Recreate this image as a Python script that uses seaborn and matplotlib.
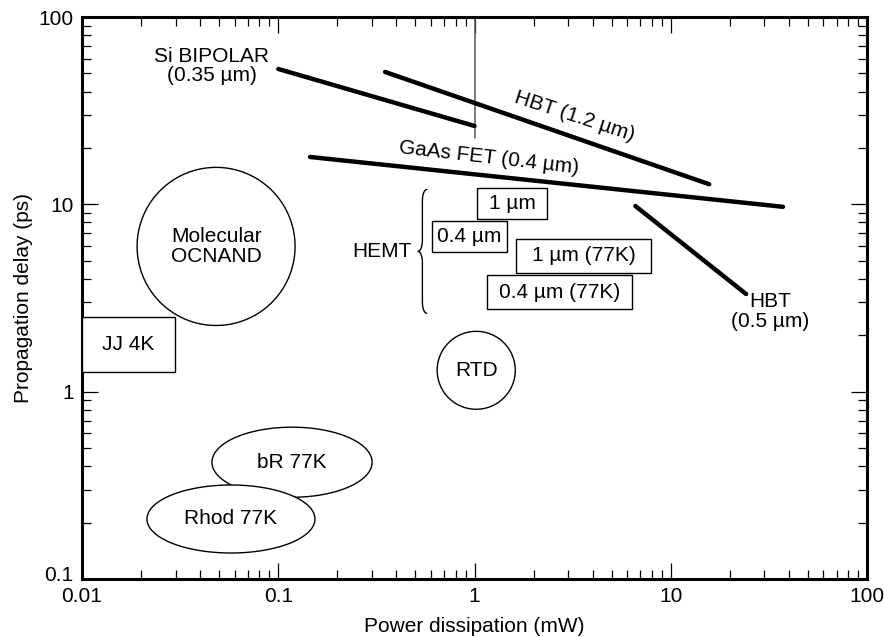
import numpy as np
import pandas as pd
import matplotlib
matplotlib.use("Agg")
import matplotlib.pyplot as plt
from matplotlib.patches import Rectangle
from matplotlib.transforms import ScaledTranslation
import seaborn as sns

# %%
# Technology trend lines (endpoints)
line_names = ["Si BIPOLAR", "HBT (1.2 um)", "GaAs FET", "HBT (0.5 um)"]
line_power_start = [0.10, 0.35, 0.145, 6.6]
line_power_end = [1.0, 15.7, 37.3, 24.2]
line_delay_start = [52.8, 50.9, 17.9, 9.8]
line_delay_end = [26.2, 12.8, 9.7, 3.32]

line_label_text = ["Si BIPOLAR\n(0.35 \u00b5m)", "HBT (1.2 \u00b5m)",
                   "GaAs FET (0.4 \u00b5m)", "HBT\n(0.5 \u00b5m)"]
line_label_power = [0.0459, 3.25, 1.19, 32.0]
line_label_delay = [54.7, 29.6, 17.7, 2.69]
line_label_angle = [0, -18, -6.5, 0]

# marker at 1 mW
marker_power = 1.0
marker_delay = [22.6, 100]

# Circular / elliptical regions: centre and half-size in decades
blob_labels = ["Molecular\nOCNAND", "RTD", "bR 77K", "Rhod 77K"]
blob_power = [0.0482, 1.02, 0.1175, 0.0574]
blob_delay = [5.96, 1.30, 0.42, 0.209]
blob_xspan = [0.4025, 0.199, 0.408, 0.428]
blob_yspan = [0.422, 0.208, 0.187, 0.1815]

# Rectangular regions
box_labels = ["JJ 4K", "1 \u00b5m", "0.4 \u00b5m", "1 \u00b5m (77K)", "0.4 \u00b5m (77K)"]
box_power_lo = [0.01, 1.03, 0.607, 1.63, 1.16]
box_power_hi = [0.0298, 2.34, 1.46, 7.93, 6.35]
box_delay_lo = [1.27, 8.35, 5.56, 4.30, 2.76]
box_delay_hi = [2.50, 12.2, 8.15, 6.53, 4.19]

# HEMT brace
brace_power = 0.515
brace_delay = [2.62, 12.0]
hemt_label_power = 0.338

x_ticks = [0.01, 0.1, 1, 10, 100]
x_tick_labels = ["0.01", "0.1", "1", "10", "100"]
y_ticks = [0.1, 1, 10, 100]
y_tick_labels = ["0.1", "1", "10", "100"]

# %%
sns.set_theme(style="ticks")
plt.rcParams["font.family"] = ["Liberation Sans", "DejaVu Sans"]
plt.rcParams["font.size"] = 15
plt.rcParams["text.color"] = "black"
plt.rcParams["axes.labelcolor"] = "black"
plt.rcParams["xtick.color"] = "black"
plt.rcParams["ytick.color"] = "black"

fig = plt.figure(figsize=(8.84, 6.37), dpi=100)
ax = fig.add_axes([0.0928, 0.0911, 0.888, 0.8822])
ax.set_xscale("log")
ax.set_yscale("log")

# trend lines through seaborn
rows = []
for name, x0, x1, y0, y1 in zip(line_names, line_power_start, line_power_end,
                                line_delay_start, line_delay_end):
    rows.append({"tech": name, "power": x0, "delay": y0})
    rows.append({"tech": name, "power": x1, "delay": y1})
lines_df = pd.DataFrame(rows)
sns.lineplot(data=lines_df, x="power", y="delay", hue="tech", units="tech",
             estimator=None, sort=False, palette=["black"] * len(line_names),
             linewidth=3.2, legend=False, ax=ax, zorder=3)

ax.plot([marker_power, marker_power], marker_delay, color="#555555", lw=1.1, zorder=2)

for txt, px, py, ang in zip(line_label_text, line_label_power, line_label_delay, line_label_angle):
    ax.text(px, py, txt, ha="center", va="center", rotation=ang,
            rotation_mode="anchor", linespacing=1.05, zorder=4)

# circles / ellipses drawn in log space
t = np.linspace(0, 2 * np.pi, 200)
for i, (lab, cx, cy, rx, ry) in enumerate(zip(blob_labels, blob_power, blob_delay,
                                              blob_xspan, blob_yspan)):
    xs = 10 ** (np.log10(cx) + rx * np.cos(t))
    ys = 10 ** (np.log10(cy) + ry * np.sin(t))
    ax.fill(xs, ys, facecolor="white", edgecolor="black", lw=1.0, zorder=5 + i)
    ax.text(cx, cy, lab, ha="center", va="center", linespacing=1.05, zorder=5 + i)

# boxes
for lab, x0, x1, y0, y1 in zip(box_labels, box_power_lo, box_power_hi,
                               box_delay_lo, box_delay_hi):
    ax.add_patch(Rectangle((x0, y0), x1 - x0, y1 - y0, facecolor="white",
                           edgecolor="black", lw=1.0, zorder=10))
    ax.text(np.sqrt(x0 * x1), np.sqrt(y0 * y1), lab, ha="center", va="center", zorder=11)

# curly brace for HEMT (built in log space)
lx0 = np.log10(brace_power)
ylo, yhi = np.log10(brace_delay[0]), np.log10(brace_delay[1])
ymid = (ylo + yhi) / 2
w = 0.045
r = 0.06
q = np.linspace(0, np.pi / 2, 30)
top = np.column_stack([lx0 + w - (w / 2) * np.sin(q), yhi - r + r * np.cos(q)])
upper_mid = np.column_stack([lx0 + (w / 2) * np.cos(q), ymid + r - r * np.sin(q)])
lower_mid = np.column_stack([lx0 + (w / 2) * np.sin(q), ymid - r + r * np.cos(q)])
bottom = np.column_stack([lx0 + w - (w / 2) * np.cos(q), ylo + r - r * np.sin(q)])
brace = np.vstack([top, upper_mid, lower_mid, bottom])
ax.plot(10 ** brace[:, 0], 10 ** brace[:, 1], color="black", lw=1.0, zorder=4)
ax.text(hemt_label_power, 10 ** ymid, "HEMT", ha="center", va="center")

# axes styling
ax.set_xlim(0.01, 100)
ax.set_ylim(0.1, 100)
ax.set_xticks(x_ticks)
ax.set_xticklabels(x_tick_labels)
ax.set_yticks(y_ticks)
ax.set_yticklabels(y_tick_labels)
ax.tick_params(which="both", direction="in", top=True, right=True, color="black")
ax.tick_params(which="major", length=11.5, width=0.9, labelsize=15)
ax.tick_params(which="minor", length=6.5, width=0.9)
ax.tick_params(axis="x", which="major", pad=6)
ax.tick_params(axis="y", which="major", pad=6)
for s in ax.spines.values():
    s.set_linewidth(2.2)
    s.set_color("black")
    s.set_visible(True)

# lift the lowest y label a little, as in the original
low_label = ax.get_yticklabels()[0]
low_label.set_transform(low_label.get_transform()
                        + ScaledTranslation(0, 4 / 72, fig.dpi_scale_trans))

ax.set_xlabel("Power dissipation (mW)", fontsize=15, labelpad=8)
ax.set_ylabel("Propagation delay (ps)", fontsize=15, labelpad=4)

fig.savefig("out.png", dpi=100)
